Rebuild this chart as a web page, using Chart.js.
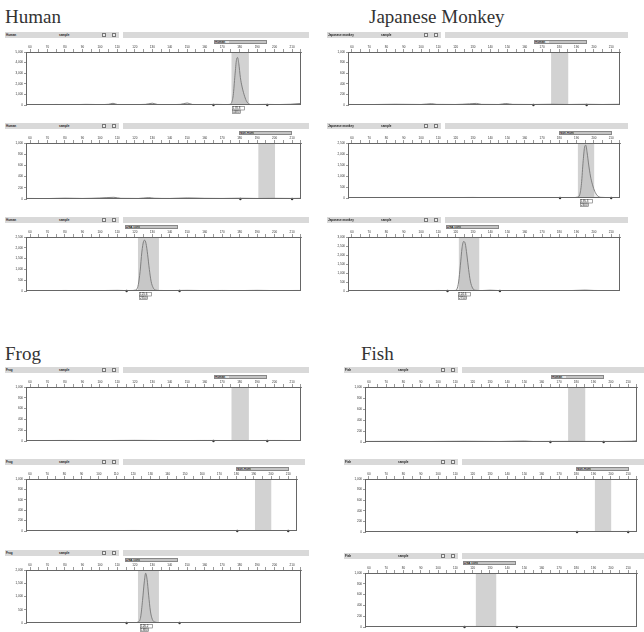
<!DOCTYPE html>
<html>
<head>
<meta charset="utf-8">
<script src="https://cdn.jsdelivr.net/npm/chart.js@4.4.1/dist/chart.umd.min.js"></script>
<style>
  body { margin: 0; width: 644px; height: 632px; position: relative; overflow: hidden; background: #fff; font-family: "Liberation Sans", Arial, sans-serif; }
  canvas { position: absolute; }
  .title { position: absolute; font-family: "Liberation Serif", "Times New Roman", serif; font-size: 19px; line-height: 19px; color: #333; white-space: nowrap; }
  .hdr { position: absolute; height: 6px; background: #d9d9d9; }
  .hdr span { position: absolute; top: 0; font-size: 3px; line-height: 6px; color: #222; font-weight: bold; white-space: nowrap; }
  .hdr .btn { top: 1px; width: 4px; height: 4px; background: #eee; border: 0.5px solid #777; box-sizing: border-box; }
  .hdr .gap { left: 114px; width: 4px; height: 6px; background: #fff; }
  .bin { position: absolute; height: 4px; width: 53px; background: #c4c4c4; border: 0.6px solid #888; box-sizing: border-box; overflow: hidden; }
  .bin span { display: block; width: 14px; height: 100%; background: #e6e6e6; font-size: 3px; line-height: 3px; color: #111; font-weight: bold; white-space: nowrap; overflow: hidden; }
</style>
</head>
<body>
<script>
// AXIS
const sizeTicks = [60, 70, 80, 90, 100, 110, 120, 130, 140, 150, 160, 170, 180, 190, 200, 210];
const sizeMin = 57.7, sizeMax = 215.1;

// BINS
const binNames = ["Human", "Non-Human", "DNA control"];
const binRanges = [[175.2, 185.3], [190.6, 200.3], [121.7, 133.8]];
const binMarkers = [[165, 195.8], [180.4, 210], [115.3, 145.6]];

// SAMPLES
const sampleNames = ["Human", "Japanese Monkey", "Frog", "Fish"];
const headerNames = ["Human", "Japanese monkey", "Frog", "Fish"];

// Y SCALES [sample][bin]
const yMax = [[5000, 1000, 2500], [1000, 2500, 3000], [1000, 1000, 2000], [1000, 1000, 1000]];
const yStep = [[500, 200, 500], [200, 500, 500], [200, 200, 500], [200, 200, 200]];

// TRACES [size, height]
const humanA = [[57.7,40],[66,30],[75,50],[84,30],[92,60],[100,40],[105,70],[107.5,160],[110,50],[118,40],[126,60],[130,170],[133,50],[140,40],[146,60],[150,190],[153,50],[160,40],[167,60],[172,40],[174.3,60],[175.3,200],[176.3,900],[177.3,2800],[178.2,4300],[178.8,4480],[179.5,3900],[180.4,2600],[181.4,1700],[182.5,1000],[183.8,400],[185.3,100],[187,40],[195,60],[202,40],[209,70],[215.1,150]];
const humanB = [[57.7,10],[70,8],[80,15],[90,10],[100,18],[108,30],[112,12],[122,10],[128,25],[131,14],[140,10],[150,20],[160,12],[170,10],[180,14],[190,10],[200,12],[210,10],[215.1,12]];
const humanC = [[57.7,20],[70,15],[80,25],[90,15],[100,20],[110,30],[115,20],[119,25],[120.2,40],[121,70],[122,300],[123,900],[124,1800],[125,2300],[125.6,2350],[126.4,2200],[127.3,1700],[128.3,1000],[129.3,450],[130.5,150],[132,40],[134,25],[140,20],[150,30],[160,20],[170,25],[180,20],[190,30],[200,20],[215.1,25]];
const monkeyA = [[57.7,10],[70,8],[85,14],[100,10],[106,25],[109,12],[120,10],[128,22],[132,30],[135,12],[145,10],[149,28],[153,12],[165,10],[175,14],[185,10],[195,14],[205,10],[215.1,14]];
const monkeyB = [[57.7,15],[75,12],[90,20],[105,15],[120,20],[130,25],[140,15],[150,20],[160,15],[170,20],[180,15],[188,20],[190.5,40],[191.8,150],[192.8,650],[193.8,1700],[194.7,2350],[195.3,2400],[196.1,2050],[197,1500],[198,1000],[199.2,600],[200.5,300],[202,110],[204,30],[210,20],[215.1,20]];
const monkeyC = [[57.7,20],[70,15],[85,25],[100,20],[110,30],[116,20],[119.5,30],[120.7,100],[121.7,500],[122.7,1400],[123.7,2400],[124.6,2750],[125.5,2650],[126.5,2000],[127.5,1200],[128.5,550],[129.8,160],[131.5,40],[135,25],[140,45],[145,25],[155,20],[170,25],[185,20],[195,50],[200,30],[210,20],[215.1,25]];
const frogA = [[57.7,8],[80,10],[100,8],[120,12],[140,8],[160,10],[180,8],[200,10],[215.1,8]];
const frogB = [[57.7,8],[80,9],[100,8],[120,10],[140,8],[160,9],[180,8],[200,9],[215.1,8]];
const frogC = [[57.7,15],[80,12],[100,15],[115,12],[120,15],[122,40],[123.3,220],[124.4,850],[125.4,1550],[126.2,1880],[127,1650],[127.9,1050],[128.9,450],[130,140],[131.5,35],[134,15],[150,12],[170,15],[190,12],[215.1,15]];
const fishA = [[57.7,10],[75,12],[95,10],[115,14],[135,10],[150,18],[155,10],[175,12],[195,10],[212,15],[215.1,25]];
const fishB = [[57.7,8],[80,10],[100,8],[120,10],[140,8],[160,10],[180,8],[200,10],[215.1,10]];
const fishC = [[57.7,8],[80,9],[100,8],[120,10],[140,8],[160,9],[180,8],[200,9],[215.1,8]];
const traces = [[humanA, humanB, humanC], [monkeyA, monkeyB, monkeyC], [frogA, frogB, frogC], [fishA, fishB, fishC]];

// LAYOUT (plot box left, top, width, height)
const titlePos = [[5, 7], [369, 7], [5, 344], [361, 344]];
const plotBoxes = [
  [[26, 52, 276, 53], [26, 143, 276, 56], [26, 237, 276, 54]],
  [[348, 52, 273, 53], [348, 143, 273, 55], [348, 237, 273, 54]],
  [[26, 387, 276, 54], [26, 479, 272, 52], [26, 570, 276, 53]],
  [[365, 387, 273, 55], [365, 479, 273, 53], [365, 573, 273, 54]]
];
const binBarOffset = [17, 19, 13];

// FRAME + PEAK LABEL
const frame = {
  id: "frame",
  afterDatasetsDraw(chart) {
    const ctx = chart.ctx, a = chart.chartArea;
    ctx.save();
    ctx.strokeStyle = "#666";
    ctx.lineWidth = 1;
    ctx.strokeRect(a.left + 0.5, a.top + 0.5, a.right - a.left - 1, a.bottom - a.top - 1);
    const pts = chart.data.datasets[0].data;
    const pk = pts.reduce((m, p) => p.y > m.y ? p : m);
    if (pk.y > chart.scales.y.max * 0.3) {
      const x = Math.round(chart.scales.x.getPixelForValue(pk.x));
      ctx.lineWidth = 0.6;
      ctx.fillStyle = "#fff";
      ctx.fillRect(x - 6, a.bottom + 1, 13, 8);
      ctx.strokeRect(x - 6 + 0.5, a.bottom + 1.5, 12, 3.5);
      ctx.strokeRect(x - 6 + 0.5, a.bottom + 5, 8, 3.5);
      ctx.fillStyle = "#222";
      ctx.font = "3px sans-serif";
      ctx.fillText(pk.x.toFixed(1), x - 5, a.bottom + 4.3);
      ctx.fillText(String(pk.y), x - 5, a.bottom + 7.8);
    }
    ctx.restore();
  }
};

function makePanel(s, b) {
  const [L, T, W, H] = plotBoxes[s][b];
  const top = yMax[s][b];

  const hdr = document.createElement("div");
  hdr.className = "hdr";
  hdr.style.left = (L - 21) + "px";
  hdr.style.top = (T - 20) + "px";
  hdr.style.width = (W + 28) + "px";
  hdr.innerHTML = '<span style="left:1px">' + headerNames[s] + '</span><span style="left:54px">sample</span>' +
    '<span class="btn" style="left:97px"></span><span class="btn" style="left:107px"></span><span class="gap"></span>';
  document.body.appendChild(hdr);

  const cv = document.createElement("canvas");
  cv.width = W + 19;
  cv.height = H + 25;
  cv.style.left = (L - 16) + "px";
  cv.style.top = (T - 11) + "px";
  document.body.appendChild(cv);

  const chart = new Chart(cv, {
    type: "line",
    data: {
      datasets: [
        { data: traces[s][b].map(p => ({ x: p[0], y: p[1] })), borderColor: "#777", borderWidth: 0.9,
          backgroundColor: "rgba(150,150,150,0.18)", fill: "origin", pointRadius: 0, cubicInterpolationMode: "monotone" },
        { type: "scatter", data: binMarkers[b].map(x => ({ x: x, y: 0 })), pointRadius: 1.2,
          backgroundColor: "#333", borderWidth: 0, clip: 4 },
        { data: binRanges[b].map(x => ({ x: x, y: top })), backgroundColor: "#d2d2d2", borderWidth: 0,
          fill: "origin", pointRadius: 0 }
      ]
    },
    options: {
      responsive: false,
      animation: false,
      layout: { padding: { right: 3, bottom: 14 } },
      plugins: { legend: { display: false }, tooltip: { enabled: false } },
      scales: {
        x: {
          type: "linear", position: "top", min: sizeMin, max: sizeMax,
          afterFit: sc => { sc.height = 11; },
          ticks: { stepSize: 5, includeBounds: false, autoSkip: false, maxRotation: 0, padding: 0,
            font: { size: 3 }, color: "#333", callback: v => sizeTicks.includes(v) ? v : "" },
          grid: { drawOnChartArea: false, tickLength: 3, color: "#555", lineWidth: 0.6 },
          border: { color: "#666" }
        },
        y: {
          min: 0, max: top,
          afterFit: sc => { sc.width = 16; },
          ticks: { stepSize: yStep[s][b], padding: 1, font: { size: 3 }, color: "#333" },
          grid: { drawOnChartArea: false, tickLength: 2, color: "#555", lineWidth: 0.6 },
          border: { color: "#666" }
        }
      }
    },
    plugins: [frame]
  });

  const bx = chart.scales.x.getPixelForValue(binRanges[b][0]);
  const bin = document.createElement("div");
  bin.className = "bin";
  bin.style.left = Math.round(L - 16 + bx - binBarOffset[b]) + "px";
  bin.style.top = (T - 12) + "px";
  bin.innerHTML = "<span>" + binNames[b] + "</span>";
  document.body.appendChild(bin);
}

sampleNames.forEach((name, s) => {
  const t = document.createElement("div");
  t.className = "title";
  t.textContent = name;
  t.style.left = titlePos[s][0] + "px";
  t.style.top = titlePos[s][1] + "px";
  document.body.appendChild(t);
  for (let b = 0; b < 3; b++) makePanel(s, b);
});
</script>
</body>
</html>
